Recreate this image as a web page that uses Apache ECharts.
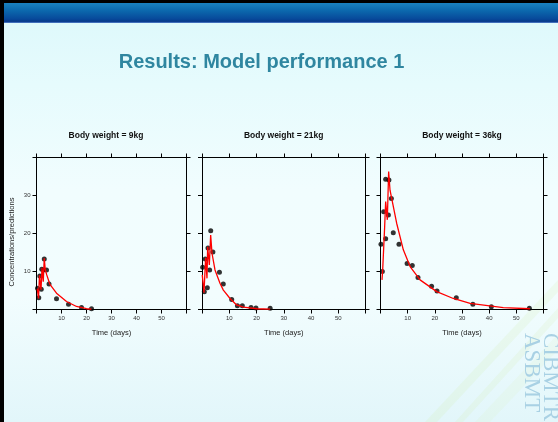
<!DOCTYPE html>
<html>
<head>
<meta charset="utf-8">
<script src="https://cdn.jsdelivr.net/npm/echarts@6/dist/echarts.min.js"></script>
<style>
html,body{margin:0;padding:0;}
body{width:558px;height:422px;overflow:hidden;position:relative;
background:linear-gradient(180deg,#dcf8fb 0%,#e6fbfd 20%,#f1fdfe 45%,#f2fdfe 70%,#e2f6fa 100%);}
#lb{position:absolute;left:0;top:0;width:4px;height:422px;background:#000;}
#tb{position:absolute;left:0;top:0;width:558px;height:3px;background:#000;}
#hb{position:absolute;left:4px;top:3px;width:554px;height:20px;
background:linear-gradient(180deg,#1a82c0 0%,#0b67ac 40%,#07499a 80%,#06388a 92%,#5a86d0 100%);}
#chart{position:absolute;left:0;top:0;width:558px;height:422px;}
</style>
</head>
<body>
<div id="lb"></div><div id="tb"></div><div id="hb"></div>
<div id="chart"></div>
<script>
// ---- data ----
const slideTitle = 'Results: Model performance 1';
const panelTitles = ['Body weight = 9kg', 'Body weight = 21kg', 'Body weight = 36kg'];
const xTickLabels = ['10', '20', '30', '40', '50'];
const yTickLabels = ['10', '20', '30'];
const xName = 'Time (days)';
const yName = 'Concentrations/predictions';

const obs9T  = [0.4, 0.9, 1.3, 1.9, 2.1, 2.8, 3.1, 4.0, 5.0, 8.0, 12.8, 18.0, 22.0];
const obs9C  = [5.6, 3.1, 8.8, 5.3, 10.6, 10.4, 13.3, 10.4, 6.7, 2.8, 1.4, 0.5, 0.2];
const pred9T = [0.3, 0.8, 1.2, 1.8, 2.2, 2.7, 3.1, 3.5, 4.1, 5.3, 8, 12, 16, 20, 22];
const pred9C = [5.5, 2.9, 9.0, 5.2, 11.0, 7.3, 13.5, 10.5, 9.1, 6.7, 4.3, 2.1, 0.8, 0.2, 0.1];

const obs21T  = [0.25, 0.85, 1.2, 1.95, 2.2, 2.8, 3.2, 4.0, 6.4, 7.8, 10.9, 13.0, 14.8, 18.0, 19.8, 25.0];
const obs21C  = [11.1, 4.7, 13.3, 5.7, 16.2, 10.4, 20.7, 15.1, 9.8, 6.7, 2.6, 1.0, 1.0, 0.5, 0.4, 0.3];
const pred21T = [0.1, 0.73, 1.34, 1.83, 2.08, 2.69, 3.18, 3.67, 4.77, 6.6, 7.83, 10.3, 12.7, 15.2, 20.1, 25];
const pred21C = [9.1, 4.4, 13.6, 8.2, 16.5, 11.7, 19.6, 14.8, 10.4, 6.9, 5.1, 2.9, 1.2, 0.6, 0.2, 0.1];

const obs36T  = [0.18, 0.67, 1.17, 1.9, 1.9, 2.9, 3.1, 4.0, 4.7, 6.8, 9.8, 11.7, 13.8, 18.8, 20.8, 27.9, 34.0, 40.8, 54.8];
const obs36C  = [17.2, 10.0, 25.7, 18.6, 34.3, 24.9, 34.1, 29.2, 20.2, 17.2, 12.1, 11.6, 8.4, 6.1, 4.9, 3.1, 1.4, 0.7, 0.3];
const pred36T = [0.55, 0.8, 1.53, 1.9, 2.51, 3.0, 3.5, 4.1, 5.95, 8.4, 10.9, 14.55, 20.7, 26.8, 33, 45.2, 55];
const pred36C = [7.8, 10.4, 21.8, 28.4, 23.6, 36.3, 31.4, 29.3, 22.7, 15.7, 11.3, 7.8, 4.7, 2.9, 1.6, 0.5, 0.2];

const watermark = ['CIBMTR', 'ASBMT'];

// ---- build ----
const zip = (a, b) => a.map((v, i) => [v, b[i]]);
const panels = [
  {obs: zip(obs9T, obs9C),   pred: zip(pred9T, pred9C)},
  {obs: zip(obs21T, obs21C), pred: zip(pred21T, pred21C)},
  {obs: zip(obs36T, obs36C), pred: zip(pred36T, pred36C)}
];
const gridsPos = [
  {left: 36.5, top: 157.5, width: 150, height: 152},
  {left: 202,  top: 157.5, width: 163.5, height: 152},
  {left: 380.5, top: 157.5, width: 163, height: 152}
];
const FF = 'Liberation Sans, Arial, sans-serif';
const lineBlack = {show: true, onZero: false, lineStyle: {color: '#000', width: 1}};
const tick = {show: true, inside: false, length: 4, lineStyle: {color: '#000', width: 1}};

const grid = [], xAxis = [], yAxis = [], series = [];
gridsPos.forEach((g, i) => {
  grid.push(Object.assign({containLabel: false}, g));
  xAxis.push({
    gridIndex: i, type: 'value', min: 0, max: 60, interval: 10, position: 'bottom',
    axisLine: lineBlack, axisTick: tick, splitLine: {show: false},
    axisLabel: {show: true, margin: 6, fontSize: 6, color: '#333', fontFamily: FF,
      formatter: v => xTickLabels.indexOf(String(v)) >= 0 ? String(v) : ''},
    name: xName, nameLocation: 'middle', nameGap: 19.5,
    nameTextStyle: {fontSize: 7.5, color: '#222', fontFamily: FF}
  });
  xAxis.push({
    gridIndex: i, type: 'value', min: 0, max: 60, interval: 10, position: 'top',
    axisLine: lineBlack, axisTick: tick, splitLine: {show: false}, axisLabel: {show: false}
  });
  yAxis.push({
    gridIndex: i, type: 'value', min: 0, max: 40, interval: 10, position: 'left',
    axisLine: lineBlack, axisTick: tick, splitLine: {show: false},
    axisLabel: {show: i === 0, margin: 6, fontSize: 6, color: '#333', fontFamily: FF,
      formatter: v => yTickLabels.indexOf(String(v)) >= 0 ? String(v) : ''}
  });
  yAxis.push({
    gridIndex: i, type: 'value', min: 0, max: 40, interval: 10, position: 'right',
    axisLine: lineBlack, axisTick: tick, splitLine: {show: false}, axisLabel: {show: false}
  });
  series.push({
    type: 'scatter', xAxisIndex: 2 * i, yAxisIndex: 2 * i, data: panels[i].obs,
    symbol: 'circle', symbolSize: 5, itemStyle: {color: '#000'}, silent: true, z: 2
  });
  series.push({
    type: 'line', xAxisIndex: 2 * i, yAxisIndex: 2 * i, data: panels[i].pred,
    showSymbol: false, symbol: 'none', smooth: false,
    lineStyle: {color: '#ff0000', width: 1.3}, silent: true, z: 3
  });
});

const titleX = [106, 283.7, 462];
const graphic = [
  {type: 'text', x: 261.5, y: 62.5, silent: true,
   style: {text: slideTitle, fill: '#2f86a0', font: 'bold 20px ' + FF, textAlign: 'center', textVerticalAlign: 'middle'}},
  {type: 'text', x: 12, y: 242, rotation: Math.PI / 2, silent: true,
   style: {text: yName, fill: '#222', font: '7.5px ' + FF, textAlign: 'center', textVerticalAlign: 'middle'}},
  // background streaks
  {type: 'polygon', silent: true, z: -10, shape: {points: [[425, 422], [437, 422], [558, 292], [558, 280]]},
   style: {fill: 'rgba(205,235,160,0.16)'}},
  {type: 'polygon', silent: true, z: -10, shape: {points: [[455, 422], [463, 422], [558, 318], [558, 308]]},
   style: {fill: 'rgba(205,235,160,0.15)'}},
  {type: 'polygon', silent: true, z: -10, shape: {points: [[475, 422], [490, 422], [558, 350], [558, 334]]},
   style: {fill: 'rgba(215,240,175,0.13)'}},
  {type: 'text', x: 550, y: 333, rotation: -Math.PI / 2, silent: true, z: -5,
   style: {text: watermark[0], fill: '#a9d1e4', font: '23px Liberation Serif, serif', textAlign: 'left', textVerticalAlign: 'middle'}},
  {type: 'text', x: 531, y: 333, rotation: -Math.PI / 2, silent: true, z: -5,
   style: {text: watermark[1], fill: '#a9d1e4', font: '23px Liberation Serif, serif', textAlign: 'left', textVerticalAlign: 'middle'}}
];
panelTitles.forEach((t, i) => graphic.push({
  type: 'text', x: titleX[i], y: 136, silent: true,
  style: {text: t, fill: '#111', font: 'bold 8.5px ' + FF, textAlign: 'center', textVerticalAlign: 'middle'}
}));

const chart = echarts.init(document.getElementById('chart'), null, {renderer: 'canvas'});
chart.setOption({
  animation: false,
  backgroundColor: 'transparent',
  grid, xAxis, yAxis, series, graphic
});
</script>
</body>
</html>
